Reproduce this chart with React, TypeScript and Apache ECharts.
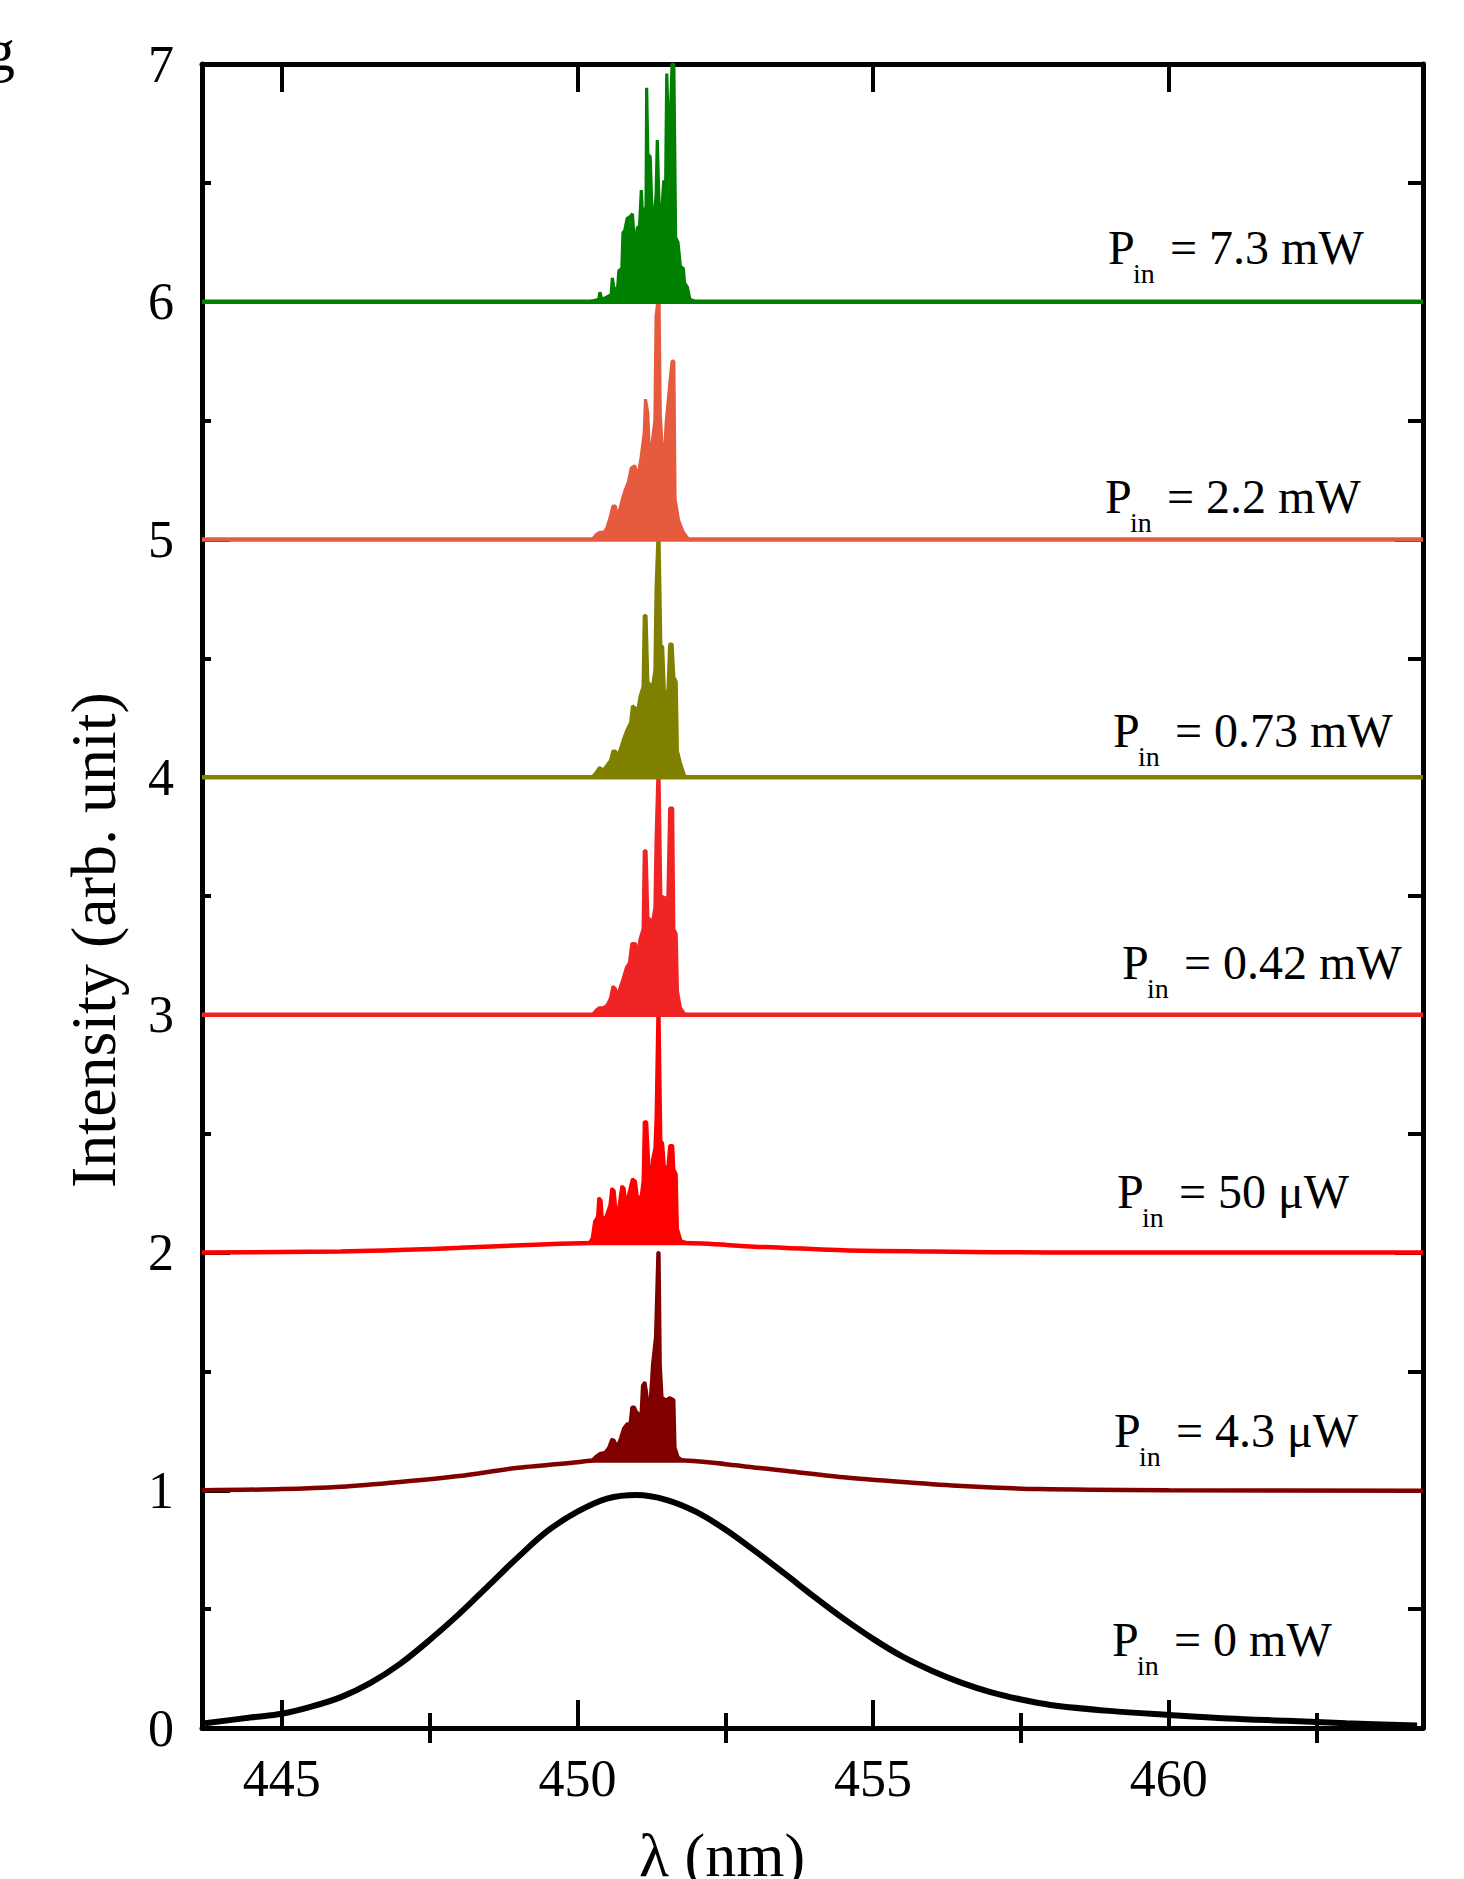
import React, { useEffect, useRef } from 'react';
import * as echarts from 'echarts';

// ---------- axis ranges & ticks ----------
const X_MIN = 443.65;
const X_MAX = 464.3;
const xMajorTicks = [445, 450, 455, 460];
const xMinorTicks = [447.5, 452.5, 457.5, 462.5];
const Y_MIN = 0;
const Y_MAX = 7;

// ---------- labels ----------
const powerLabels = ['= 7.3 mW', '= 2.2 mW', '= 0.73 mW', '= 0.42 mW', '= 50 μW', '= 4.3 μW', '= 0 mW'];
const traceColors = ['#008000', '#E65A3E', '#808000', '#F02424', '#FF0000', '#800000', '#000000'];
// baseline (floor) under the lasing spikes for each trace, top to bottom
const spikeFloors = [6.0, 5.0, 4.0, 3.0, 2.04, 1.125];

// ---------- traces: broad baselines ----------
const greenBase = [[443.65, 6.0], [464.3, 6.0]];
const orangeBase = [[443.65, 5.0], [464.3, 5.0]];
const oliveBase = [[443.65, 4.0], [464.3, 4.0]];
const red042Base = [[443.65, 3.0], [464.3, 3.0]];
const red50Base = [
  [443.65, 2.0], [446.0, 2.005], [448.0, 2.02], [449.5, 2.035], [450.25, 2.04],
  [451.8, 2.04], [453.0, 2.025], [454.5, 2.01], [456.0, 2.005], [458.0, 2.0], [464.3, 2.0],
];
const darkRedBase = [
  [443.65, 1.0], [445.0, 1.005], [446.0, 1.015], [447.0, 1.035], [448.0, 1.06], [449.0, 1.095],
  [450.0, 1.118], [450.3, 1.125], [451.8, 1.125], [452.5, 1.11], [453.5, 1.082], [454.5, 1.055],
  [455.5, 1.035], [456.5, 1.018], [457.8, 1.005], [460.0, 1.0], [464.3, 0.998],
];

// ---------- traces: lasing spikes ----------
const greenSpikes = [
  [450.2, 6.0], [450.36, 6.01], [450.38, 6.04], [450.41, 6.01], [450.5, 6.02], [450.57, 6.03],
  [450.59, 6.10], [450.62, 6.05], [450.68, 6.06], [450.7, 6.13], [450.75, 6.14], [450.77, 6.29],
  [450.8, 6.30], [450.84, 6.35], [450.9, 6.36], [450.93, 6.37], [450.96, 6.25], [450.98, 6.23],
  [451.01, 6.31], [451.05, 6.32], [451.08, 6.47], [451.1, 6.36], [451.16, 6.4], [451.17, 6.90],
  [451.19, 6.62], [451.23, 6.61], [451.26, 6.38], [451.3, 6.36], [451.33, 6.45], [451.35, 6.68],
  [451.38, 6.40], [451.42, 6.36], [451.46, 6.51], [451.49, 6.46], [451.51, 6.96], [451.55, 6.6],
  [451.6, 7.0], [451.63, 7.0], [451.66, 6.27], [451.7, 6.25], [451.74, 6.15], [451.79, 6.14],
  [451.81, 6.08], [451.86, 6.06], [451.9, 6.01], [452.0, 6.0],
];
const orangeSpikes = [
  [450.25, 5.0], [450.32, 5.02], [450.38, 5.03], [450.45, 5.03], [450.5, 5.05], [450.55, 5.09],
  [450.6, 5.14], [450.64, 5.14], [450.67, 5.10], [450.72, 5.13], [450.76, 5.17], [450.81, 5.21],
  [450.86, 5.24], [450.91, 5.30], [450.97, 5.31], [451.02, 5.26], [451.08, 5.35], [451.13, 5.45],
  [451.15, 5.59], [451.19, 5.53], [451.22, 5.32], [451.27, 5.42], [451.31, 5.5], [451.33, 5.94],
  [451.36, 6.0], [451.38, 6.0], [451.4, 5.52], [451.46, 5.28], [451.5, 5.49], [451.56, 5.65],
  [451.6, 5.75], [451.63, 5.75], [451.65, 5.17], [451.71, 5.08], [451.79, 5.03], [451.88, 5.0],
];
const oliveSpikes = [
  [450.25, 4.0], [450.32, 4.02], [450.37, 4.04], [450.44, 4.03], [450.5, 4.05], [450.56, 4.07],
  [450.6, 4.11], [450.64, 4.11], [450.68, 4.09], [450.73, 4.12], [450.78, 4.16], [450.84, 4.20],
  [450.9, 4.23], [450.93, 4.30], [450.98, 4.29], [451.02, 4.28], [451.06, 4.34], [451.11, 4.38],
  [451.13, 4.68], [451.16, 4.68], [451.19, 4.40], [451.27, 4.38], [451.31, 4.45], [451.33, 4.80],
  [451.36, 5.0], [451.38, 5.0], [451.41, 4.55], [451.44, 4.55], [451.47, 4.36], [451.53, 4.36],
  [451.56, 4.56], [451.6, 4.56], [451.63, 4.42], [451.67, 4.40], [451.69, 4.11], [451.74, 4.06],
  [451.82, 4.0],
];
const red042Spikes = [
  [450.25, 3.0], [450.32, 3.02], [450.37, 3.03], [450.44, 3.03], [450.5, 3.04], [450.56, 3.07],
  [450.6, 3.12], [450.64, 3.11], [450.68, 3.08], [450.73, 3.12], [450.77, 3.15], [450.83, 3.20],
  [450.88, 3.22], [450.92, 3.30], [450.98, 3.30], [451.02, 3.26], [451.06, 3.32], [451.11, 3.36],
  [451.13, 3.69], [451.16, 3.69], [451.19, 3.41], [451.27, 3.39], [451.31, 3.45], [451.33, 3.74],
  [451.36, 4.0], [451.38, 4.0], [451.41, 3.5], [451.5, 3.49], [451.53, 3.5], [451.56, 3.87],
  [451.61, 3.87], [451.63, 3.36], [451.67, 3.34], [451.69, 3.10], [451.74, 3.03], [451.82, 3.0],
];
const red50Spikes = [
  [450.2, 2.04], [450.25, 2.06], [450.29, 2.13], [450.34, 2.15], [450.36, 2.23], [450.4, 2.22],
  [450.42, 2.14], [450.48, 2.15], [450.55, 2.20], [450.58, 2.27], [450.62, 2.26], [450.65, 2.18],
  [450.7, 2.19], [450.75, 2.28], [450.79, 2.27], [450.82, 2.19], [450.86, 2.24], [450.93, 2.31],
  [450.98, 2.30], [451.02, 2.22], [451.08, 2.24], [451.11, 2.30], [451.13, 2.55], [451.17, 2.55],
  [451.2, 2.40], [451.24, 2.26], [451.27, 2.39], [451.31, 2.44], [451.33, 2.57], [451.36, 3.0],
  [451.38, 3.0], [451.41, 2.47], [451.44, 2.46], [451.47, 2.36], [451.53, 2.36], [451.56, 2.45],
  [451.61, 2.45], [451.63, 2.35], [451.67, 2.33], [451.69, 2.10], [451.75, 2.05], [451.85, 2.04],
];
const darkRedSpikes = [
  [450.25, 1.125], [450.3, 1.14], [450.38, 1.155], [450.47, 1.16], [450.53, 1.18], [450.58, 1.215],
  [450.62, 1.21], [450.65, 1.19], [450.7, 1.2], [450.73, 1.22], [450.78, 1.26], [450.84, 1.28],
  [450.89, 1.28], [450.92, 1.35], [450.96, 1.35], [451.0, 1.33], [451.04, 1.32], [451.07, 1.29],
  [451.1, 1.44], [451.14, 1.455], [451.17, 1.41], [451.2, 1.31], [451.24, 1.41], [451.27, 1.53],
  [451.32, 1.645], [451.36, 2.0], [451.38, 2.0], [451.4, 1.53], [451.43, 1.39], [451.5, 1.38],
  [451.56, 1.39], [451.63, 1.38], [451.65, 1.18], [451.7, 1.14], [451.78, 1.125],
];

// ---------- trace: spontaneous emission (0 mW) ----------
const blackTrace = [
  [443.7, 0.02], [444.5, 0.045], [445.0, 0.06], [445.5, 0.09], [446.0, 0.13], [446.5, 0.19],
  [447.0, 0.27], [447.5, 0.37], [448.0, 0.48], [448.5, 0.6], [449.0, 0.72], [449.5, 0.83],
  [450.0, 0.91], [450.5, 0.965], [451.0, 0.98], [451.5, 0.96], [452.0, 0.91], [452.5, 0.835],
  [453.0, 0.745], [453.5, 0.65], [454.0, 0.553], [454.5, 0.46], [455.0, 0.375], [455.5, 0.30],
  [456.0, 0.24], [456.5, 0.19], [457.0, 0.15], [457.5, 0.12], [458.0, 0.097], [459.0, 0.072],
  [460.0, 0.055], [461.0, 0.04], [462.0, 0.03], [463.0, 0.02], [464.2, 0.01],
];

const baseTraces = [greenBase, orangeBase, oliveBase, red042Base, red50Base, darkRedBase];
const spikeTraces = [greenSpikes, orangeSpikes, oliveSpikes, red042Spikes, red50Spikes, darkRedSpikes];

// ---------- layout (pixels) ----------
const FONT = '"Liberation Serif", "Times New Roman", serif';
const labelAnchors = [
  [1108, 263], [1105, 512], [1113, 746], [1122, 978], [1117, 1207], [1114, 1446], [1112, 1655],
];

export default function App() {
  const ref = useRef<HTMLDivElement>(null);

  useEffect(() => {
    document.body.style.margin = '0';
    if (!ref.current) return;
    const chart = echarts.init(ref.current, undefined, { renderer: 'svg' });

    const series: any[] = [];
    // draw bottom trace first, top trace last
    series.push({
      type: 'line',
      data: blackTrace,
      showSymbol: false,
      smooth: 0.35,
      lineStyle: { color: traceColors[6], width: 6 },
      z: 2,
    });
    for (let i = 5; i >= 0; i--) {
      series.push({
        type: 'line',
        data: baseTraces[i],
        showSymbol: false,
        smooth: i >= 4 ? 0.3 : false,
        lineStyle: { color: traceColors[i], width: 4.5 },
        z: 2,
      });
      series.push({
        type: 'line',
        data: spikeTraces[i],
        showSymbol: false,
        lineStyle: { color: traceColors[i], width: 3.2 },
        areaStyle: { color: traceColors[i], opacity: 1, origin: spikeFloors[i] },
        z: 2,
      });
    }

    const axisLineStyle = { color: '#000', width: 5 };
    const tickStyle = { color: '#000', width: 4 };
    const labelStyle = { fontSize: 52, fontFamily: FONT, color: '#000' };

    const xCommon = { type: 'value', min: X_MIN, max: X_MAX, splitLine: { show: false } };

    const graphic: any[] = powerLabels.map((t, i) => ({
      type: 'group',
      x: labelAnchors[i][0],
      y: labelAnchors[i][1],
      children: [
        { type: 'text', x: 0, y: -16, style: { text: 'P', font: `48px ${FONT}`, fill: '#000', align: 'left', verticalAlign: 'middle' } },
        { type: 'text', x: 25, y: 10, style: { text: 'in', font: `28px ${FONT}`, fill: '#000', align: 'left', verticalAlign: 'middle' } },
        { type: 'text', x: 62, y: -16, style: { text: t, font: `48px ${FONT}`, fill: '#000', align: 'left', verticalAlign: 'middle' } },
      ],
    }));
    graphic.push(
      { type: 'text', x: 93, y: 940, rotation: Math.PI / 2, style: { text: 'Intensity (arb. unit)', font: `64px ${FONT}`, fill: '#000', align: 'center', verticalAlign: 'middle' } },
      { type: 'text', x: 722, y: 1855, style: { text: 'λ (nm)', font: `62px ${FONT}`, fill: '#000', align: 'center', verticalAlign: 'middle' } },
      { type: 'text', x: -15, y: 50, style: { text: 'g', font: `60px ${FONT}`, fill: '#000', align: 'left', verticalAlign: 'middle' } },
    );

    chart.setOption({
      animation: false,
      backgroundColor: '#fff',
      grid: { left: 202, top: 64, right: 41, bottom: 151, containLabel: false },
      xAxis: [
        {
          ...xCommon,
          position: 'bottom',
          axisLine: { show: true, onZero: false, lineStyle: axisLineStyle },
          axisTick: { show: true, inside: true, length: 28, lineStyle: tickStyle, customValues: xMajorTicks },
          axisLabel: { show: true, margin: 24, ...labelStyle, customValues: xMajorTicks },
        },
        {
          ...xCommon,
          position: 'bottom',
          axisLine: { show: false },
          axisTick: { show: true, inside: true, length: 15, lineStyle: tickStyle, customValues: xMinorTicks },
          axisLabel: { show: false },
        },
        {
          ...xCommon,
          position: 'top',
          axisLine: { show: true, onZero: false, lineStyle: axisLineStyle },
          axisTick: { show: true, inside: true, length: 28, lineStyle: tickStyle, customValues: xMajorTicks },
          axisLabel: { show: false },
        },
        {
          ...xCommon,
          position: 'top',
          axisLine: { show: false },
          axisTick: { show: true, inside: true, length: 15, lineStyle: tickStyle, customValues: xMinorTicks },
          axisLabel: { show: false },
        },
      ],
      yAxis: [
        {
          type: 'value', min: Y_MIN, max: Y_MAX, interval: 1, position: 'left',
          splitLine: { show: false },
          axisLine: { show: true, onZero: false, lineStyle: axisLineStyle },
          axisTick: { show: true, inside: true, length: 28, lineStyle: tickStyle },
          minorTick: { show: true, splitNumber: 2, length: 9, lineStyle: tickStyle },
          axisLabel: { show: true, margin: 28, showMinLabel: true, showMaxLabel: true, ...labelStyle },
        },
        {
          type: 'value', min: Y_MIN, max: Y_MAX, interval: 1, position: 'right',
          splitLine: { show: false },
          axisLine: { show: true, onZero: false, lineStyle: axisLineStyle },
          axisTick: { show: true, inside: true, length: 28, lineStyle: tickStyle },
          minorTick: { show: true, splitNumber: 2, length: 15, lineStyle: tickStyle },
          axisLabel: { show: false },
        },
      ],
      series,
      graphic,
    });

    return () => chart.dispose();
  }, []);

  return <div ref={ref} style={{ width: 1464, height: 1879 }} />;
}
